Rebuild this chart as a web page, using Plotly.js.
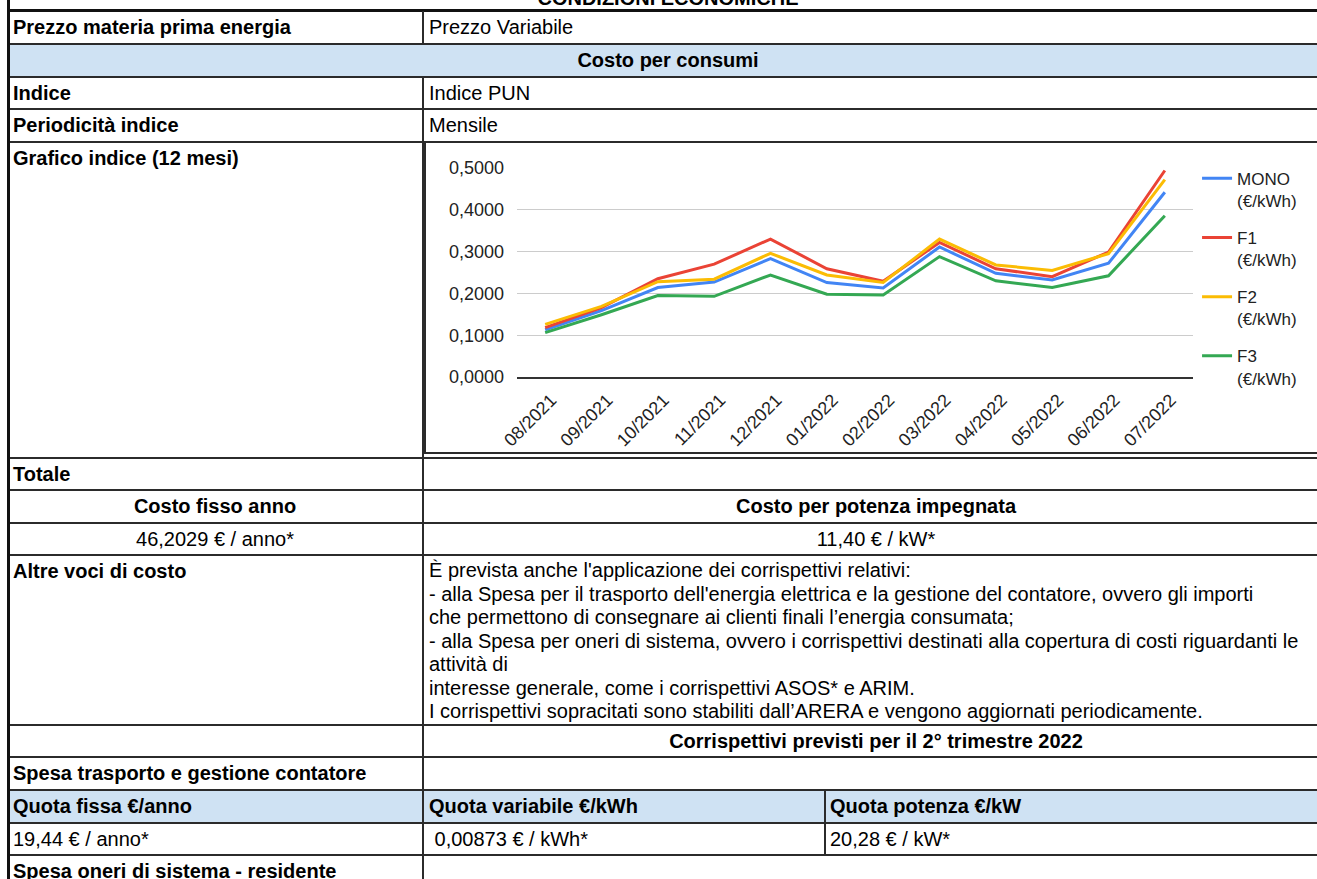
<!DOCTYPE html>
<html><head><meta charset="utf-8">
<script src="https://cdn.plot.ly/plotly-3.0.1.min.js"></script>
<style>
html,body{margin:0;padding:0;background:#fff;width:1317px;height:879px;overflow:hidden;}
body{position:relative;font-family:"Liberation Sans",Arial,sans-serif;font-size:20px;color:#000;}
.h{position:absolute;left:8px;width:1320px;height:2px;background:#2b2b2b;}
.v{position:absolute;width:2px;background:#2b2b2b;}
.c{position:absolute;display:flex;align-items:center;white-space:nowrap;line-height:23px;box-sizing:border-box;}
.b{font-weight:bold;}
.ctr{justify-content:center;}
.fill{position:absolute;background:#cfe2f3;}
#chartbox{position:absolute;left:424px;top:142px;width:905px;height:310px;border-left:2px solid #2b2b2b;border-bottom:2px solid #2b2b2b;box-sizing:content-box;}
#chart{position:absolute;left:426px;top:143px;width:900px;height:309px;}
</style></head>
<body>
<!-- fills -->
<div class="fill" style="left:8px;top:44px;width:1320px;height:33px;"></div>
<div class="fill" style="left:8px;top:790px;width:1320px;height:33px;"></div>

<!-- horizontal lines -->
<div class="h" style="top:9px;height:3px;background:#111;"></div>
<div class="h" style="top:43px;"></div>
<div class="h" style="top:76px;"></div>
<div class="h" style="top:108px;"></div>
<div class="h" style="top:141px;"></div>
<div class="h" style="top:457px;"></div>
<div class="h" style="top:489px;"></div>
<div class="h" style="top:522px;"></div>
<div class="h" style="top:554px;"></div>
<div class="h" style="top:724px;"></div>
<div class="h" style="top:756px;"></div>
<div class="h" style="top:789px;"></div>
<div class="h" style="top:822px;"></div>
<div class="h" style="top:854px;"></div>

<!-- vertical lines -->
<div class="v" style="left:7px;top:0;height:879px;width:3px;background:#111;"></div>
<div class="v" style="left:422px;top:11px;height:33px;"></div>
<div class="v" style="left:422px;top:77px;height:802px;"></div>
<div class="v" style="left:824px;top:790px;height:65px;"></div>

<div id="chartbox"></div>
<div id="chart"></div>

<!-- texts -->
<div class="c b ctr" style="left:8px;width:1320px;top:-18px;height:33px;">CONDIZIONI ECONOMICHE</div>
<div class="c b" style="left:13px;top:11px;height:33px;">Prezzo materia prima energia</div>
<div class="c" style="left:429px;top:11px;height:33px;">Prezzo Variabile</div>
<div class="c b ctr" style="left:8px;width:1320px;top:44px;height:33px;">Costo per consumi</div>
<div class="c b" style="left:13px;top:77px;height:32px;">Indice</div>
<div class="c" style="left:429px;top:77px;height:32px;">Indice PUN</div>
<div class="c b" style="left:13px;top:109px;height:33px;">Periodicità indice</div>
<div class="c" style="left:429px;top:109px;height:33px;">Mensile</div>
<div class="c b" style="left:13px;top:142px;height:33px;">Grafico indice (12 mesi)</div>
<div class="c b" style="left:13px;top:458px;height:32px;">Totale</div>
<div class="c b ctr" style="left:8px;width:414px;top:490px;height:33px;">Costo fisso anno</div>
<div class="c b ctr" style="left:424px;width:904px;top:490px;height:33px;">Costo per potenza impegnata</div>
<div class="c ctr" style="left:8px;width:414px;top:523px;height:32px;">46,2029 € / anno*</div>
<div class="c ctr" style="left:424px;width:904px;top:523px;height:32px;">11,40 € / kW*</div>
<div class="c b" style="left:13px;top:555px;height:33px;">Altre voci di costo</div>
<div class="c" style="left:429px;top:559px;display:block;line-height:23.5px;">È prevista anche l'applicazione dei corrispettivi relativi:<br>- alla Spesa per il trasporto dell'energia elettrica e la gestione del contatore, ovvero gli importi<br>che permettono di consegnare ai clienti finali l’energia consumata;<br>- alla Spesa per oneri di sistema, ovvero i corrispettivi destinati alla copertura di costi riguardanti le<br>attività di<br>interesse generale, come i corrispettivi ASOS* e ARIM.<br>I corrispettivi sopracitati sono stabiliti dall’ARERA e vengono aggiornati periodicamente.</div>
<div class="c b ctr" style="left:424px;width:904px;top:725px;height:32px;">Corrispettivi previsti per il 2° trimestre 2022</div>
<div class="c b" style="left:13px;top:757px;height:33px;">Spesa trasporto e gestione contatore</div>
<div class="c b" style="left:13px;top:790px;height:33px;">Quota fissa €/anno</div>
<div class="c b" style="left:429px;top:790px;height:33px;">Quota variabile €/kWh</div>
<div class="c b" style="left:830px;top:790px;height:33px;">Quota potenza €/kW</div>
<div class="c" style="left:13px;top:823px;height:32px;">19,44 € / anno*</div>
<div class="c" style="left:429px;top:823px;height:32px;white-space:pre;"> 0,00873 € / kWh*</div>
<div class="c" style="left:830px;top:823px;height:32px;">20,28 € / kW*</div>
<div class="c b" style="left:13px;top:855px;height:33px;">Spesa oneri di sistema - residente</div>

<script>
const months = ['08/2021','09/2021','10/2021','11/2021','12/2021','01/2022','02/2022','03/2022','04/2022','05/2022','06/2022','07/2022'];
const seriesNames = ['MONO (€/kWh)','F1 (€/kWh)','F2 (€/kWh)','F3 (€/kWh)'];
const mono = [0.113,0.159,0.214,0.227,0.283,0.226,0.213,0.311,0.248,0.232,0.272,0.442];
const f1   = [0.118,0.166,0.235,0.270,0.330,0.259,0.229,0.322,0.259,0.240,0.299,0.494];
const f2   = [0.126,0.169,0.228,0.234,0.296,0.244,0.226,0.330,0.268,0.255,0.295,0.472];
const f3   = [0.106,0.149,0.195,0.193,0.244,0.198,0.196,0.288,0.230,0.214,0.242,0.386];
const yTicks = [0,0.1,0.2,0.3,0.4,0.5];

const colors = ['#4285f4','#ea4335','#fbbc04','#34a853'];
const values = [mono,f1,f2,f3];
const traces = values.map((v,i)=>({
  type:'scatter', mode:'lines', x:months, y:v,
  name: seriesNames[i].replace(' ','<br>'),
  legendgroup:'g'+i,
  line:{color:colors[i], width:3},
  hoverinfo:'skip'
}));

const layout = {
  width:900, height:309,
  margin:{l:91, r:133, t:25, b:75, pad:0},
  paper_bgcolor:'rgba(0,0,0,0)', plot_bgcolor:'rgba(0,0,0,0)',
  separators:',.',
  font:{family:'"Liberation Sans", Arial, sans-serif', size:18, color:'#222'},
  showlegend:true,
  legend:{x:1.006, xanchor:'left', y:1.035, yanchor:'top', valign:'top', tracegroupgap:12,
          maxheight:600,
          font:{size:17, color:'#222'}, bgcolor:'rgba(0,0,0,0)', borderwidth:0},
  xaxis:{type:'category', range:[-0.5,11.5], showgrid:false, zeroline:false,
         showline:true, linecolor:'#333', linewidth:1.5, ticks:'', tickangle:-45,
         ticklabelshift:6, ticklabelstandoff:4,
         tickfont:{size:18, color:'#222'}, fixedrange:true},
  yaxis:{range:[0,0.5], tickvals:yTicks, tickformat:'.4f', showgrid:true, gridcolor:'#cccccc', gridwidth:1.2,
         zeroline:false, showline:false, ticks:'', ticklabelstandoff:12,
         tickfont:{size:18, color:'#222'}, fixedrange:true}
};
Plotly.newPlot('chart', traces, layout, {displayModeBar:false, staticPlot:true});
</script>
</body></html>
